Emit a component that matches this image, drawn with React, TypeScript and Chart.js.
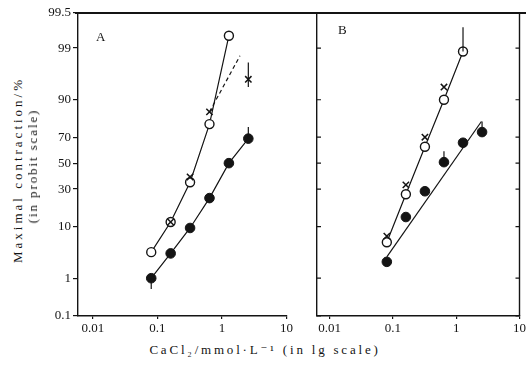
import React, { useEffect, useRef } from "react";
import { Chart, registerables } from "chart.js";
Chart.register(...registerables);

const INK = "#141414";
const FONT = "'Liberation Serif', 'DejaVu Serif', serif";

// Shared
const concentrations = [0.08, 0.16, 0.32, 0.64, 1.28, 2.56];
const xTickValues = [0.01, 0.1, 1, 10];
const xTickLabels = ["0.01", "0.1", "1", "10"];
const yTickValues = [0.1, 1, 10, 30, 50, 70, 90, 99];
const yTickLabels = ["0.1", "1", "10", "30", "50", "70", "90", "99"];
const yTopPct = 99.88;
const yTopLabel = "99.5";

// Panel A (% maximal contraction)
const aOpen = [3.6, 11.7, 35, 78.5, 99.5, null];
const aCross = [null, 11.7, 39, 85, null, 95.5];
const aFilled = [1, 3.4, 9.5, 24, 50, 69];
const aCrossFitX = [0.64, 1.9];
const aCrossFitY = [85, 98.5];
const aErrX = [0.08, 2.56, 2.56];
const aErrLo = [0.55, 93.8, 69];
const aErrHi = [1, 97.9, 76.7];

// Panel B
const bOpen = [5.5, 26.5, 63, 90, 98.8, null];
const bCross = [7, 33, 70, 93.8, null, null];
const bFilled = [2.3, 13.8, 28.5, 50.8, 66, 73.5];
const bFitX = [0.08, 2.5];
const bFitY = [2.9, 80];
const bErrX = [1.28, 0.64, 2.56];
const bErrLo = [98.8, 50.8, 73.5];
const bErrHi = [99.7, 59.6, 80];

function probit(pct: number): number {
  const p = pct / 100;
  const a = [-3.969683028665376e1, 2.209460984245205e2, -2.759285104469687e2, 1.38357751867269e2, -3.066479806614716e1, 2.506628277459239];
  const b = [-5.447609879822406e1, 1.615858368580409e2, -1.556989798598866e2, 6.680131188771972e1, -1.328068155288572e1];
  const c = [-7.784894002430293e-3, -3.223964580411365e-1, -2.400758277161838, -2.549732539343734, 4.374664141464968, 2.938163982698783];
  const d = [7.784695709041462e-3, 3.224671290700398e-1, 2.445134137142996, 3.754408661907416];
  const pl = 0.02425;
  let q: number, r: number;
  if (p < pl) {
    q = Math.sqrt(-2 * Math.log(p));
    return (((((c[0] * q + c[1]) * q + c[2]) * q + c[3]) * q + c[4]) * q + c[5]) / ((((d[0] * q + d[1]) * q + d[2]) * q + d[3]) * q + 1);
  }
  if (p <= 1 - pl) {
    q = p - 0.5;
    r = q * q;
    return ((((((a[0] * r + a[1]) * r + a[2]) * r + a[3]) * r + a[4]) * r + a[5]) * q) / (((((b[0] * r + b[1]) * r + b[2]) * r + b[3]) * r + b[4]) * r + 1);
  }
  q = Math.sqrt(-2 * Math.log(1 - p));
  return -(((((c[0] * q + c[1]) * q + c[2]) * q + c[3]) * q + c[4]) * q + c[5]) / ((((d[0] * q + d[1]) * q + d[2]) * q + d[3]) * q + 1);
}

function pts(xs: number[], ys: (number | null)[]) {
  const out: { x: number; y: number }[] = [];
  ys.forEach((v, i) => {
    if (v !== null && v !== undefined) out.push({ x: xs[i], y: probit(v) });
  });
  return out;
}

const openDs = (data: any[]) => ({
  data,
  showLine: true,
  borderColor: INK,
  borderWidth: 1.2,
  pointStyle: "circle",
  pointRadius: 4.5,
  pointBackgroundColor: "#fff",
  pointBorderColor: INK,
  pointBorderWidth: 1.4,
});
const crossDs = (data: any[]) => ({
  data,
  showLine: false,
  pointStyle: "crossRot",
  pointRadius: 4.5,
  pointBorderColor: INK,
  pointBorderWidth: 1.5,
});
const filledDs = (data: any[], line: boolean) => ({
  data,
  showLine: line,
  borderColor: INK,
  borderWidth: 1.2,
  pointStyle: "circle",
  pointRadius: 4.8,
  pointBackgroundColor: INK,
  pointBorderColor: INK,
  pointBorderWidth: 1,
});
const lineDs = (data: any[], dash: number[]) => ({
  data,
  showLine: true,
  borderColor: INK,
  borderWidth: 1.2,
  borderDash: dash,
  pointRadius: 0,
});

function makePlugin(errX: number[], errLo: number[], errHi: number[], frameRight: boolean) {
  return {
    id: "extras",
    afterDatasetsDraw(chart: any) {
      const ctx = chart.ctx;
      const xs = chart.scales.x;
      const ys = chart.scales.y;
      ctx.save();
      ctx.strokeStyle = INK;
      ctx.lineWidth = 1.2;
      errX.forEach((xv, i) => {
        const px = xs.getPixelForValue(xv);
        ctx.beginPath();
        ctx.moveTo(px, ys.getPixelForValue(probit(errLo[i])));
        ctx.lineTo(px, ys.getPixelForValue(probit(errHi[i])));
        ctx.stroke();
      });
      if (frameRight) {
        const { left, right, top, bottom } = chart.chartArea;
        ctx.lineWidth = 1.4;
        ctx.beginPath();
        ctx.moveTo(right, top);
        ctx.lineTo(right, bottom);
        ctx.stroke();
        ctx.lineWidth = 1.2;
        yTickValues.forEach((p) => {
          const py = ys.getPixelForValue(probit(p));
          ctx.beginPath();
          ctx.moveTo(left, py);
          ctx.lineTo(left + 4, py);
          ctx.moveTo(right, py);
          ctx.lineTo(right - 4, py);
          ctx.stroke();
        });
      }
      ctx.restore();
    },
  };
}

function makeConfig(panel: "A" | "B"): any {
  const isA = panel === "A";
  const allYLabels = [...yTickLabels, yTopLabel];
  const datasets = isA
    ? [
        crossDs(pts(concentrations, aCross)),
        lineDs(pts(aCrossFitX, aCrossFitY), [4, 3]),
        openDs(pts(concentrations, aOpen)),
        filledDs(pts(concentrations, aFilled), true),
      ]
    : [
        crossDs(pts(concentrations, bCross)),
        openDs(pts(concentrations, bOpen)),
        filledDs(pts(concentrations, bFilled), false),
        lineDs(pts(bFitX, bFitY), []),
      ];
  return {
    type: "scatter",
    data: { datasets },
    plugins: [
      isA ? makePlugin(aErrX, aErrLo, aErrHi, false) : makePlugin(bErrX, bErrLo, bErrHi, true),
    ],
    options: {
      responsive: false,
      animation: false,
      events: [],
      layout: { padding: { top: 13, right: isA ? 8 : 3, left: 0, bottom: 0 } },
      plugins: { legend: { display: false }, tooltip: { enabled: false } },
      scales: {
        x: {
          type: "logarithmic",
          min: isA ? 0.00586 : 0.0063,
          max: 10,
          afterFit: (s: any) => {
            s.height = 24;
          },
          afterBuildTicks: (s: any) => {
            s.ticks = xTickValues.map((v) => ({ value: v }));
          },
          ticks: {
            autoSkip: false,
            maxRotation: 0,
            color: INK,
            font: { family: FONT, size: 13 },
            padding: 2,
            callback: (_v: any, i: number) => xTickLabels[i],
          },
          grid: { drawOnChartArea: false, tickLength: 3, color: INK, lineWidth: 1.2 },
          border: { display: true, color: INK, width: 1.4 },
        },
        y: {
          type: "linear",
          min: probit(0.1),
          max: probit(yTopPct),
          afterFit: (s: any) => {
            s.width = isA ? 38 : 17;
          },
          afterBuildTicks: (s: any) => {
            s.ticks = [...yTickValues, yTopPct].map((p) => ({ value: probit(p) }));
          },
          ticks: {
            display: isA,
            autoSkip: false,
            color: INK,
            font: { family: FONT, size: 13 },
            padding: 2,
            callback: (_v: any, i: number) => allYLabels[i],
          },
          grid: { drawOnChartArea: false, drawTicks: isA, tickLength: 5, color: INK, lineWidth: 1.2 },
          border: { display: true, color: INK, width: 1.4 },
        },
      },
    },
  };
}

function Panel({ panel, left, width }: { panel: "A" | "B"; left: number; width: number }) {
  const ref = useRef<HTMLCanvasElement>(null);
  useEffect(() => {
    if (!ref.current) return;
    const chart = new Chart(ref.current, makeConfig(panel));
    return () => chart.destroy();
  }, [panel]);
  return (
    <canvas
      ref={ref}
      width={width}
      height={340}
      style={{ position: "absolute", left, top: 0, width, height: 340 }}
    />
  );
}

const textBase: React.CSSProperties = {
  position: "absolute",
  fontFamily: FONT,
  color: INK,
  whiteSpace: "nowrap",
  fontSize: 13,
};

export default function App() {
  return (
    <div
      style={{
        position: "fixed",
        left: 0,
        top: 0,
        width: 528,
        height: 368,
        background: "#fff",
        overflow: "hidden",
      }}
    >
      <Panel panel="A" left={40} width={255} />
      <Panel panel="B" left={300} width={228} />
      <div style={{ position: "absolute", left: 75, top: 12, width: 451, height: 1.5, background: INK }} />
      <div style={{ ...textBase, left: 96, top: 29, fontSize: 13 }}>A</div>
      <div style={{ ...textBase, left: 338, top: 22, fontSize: 13 }}>B</div>
      <div
        style={{
          ...textBase,
          left: 18,
          top: 170,
          letterSpacing: 3,
          transform: "translate(-50%, -50%) rotate(-90deg)",
        }}
      >
        Maximal contraction/%
      </div>
      <div
        style={{
          ...textBase,
          left: 33,
          top: 166,
          letterSpacing: 1.9,
          transform: "translate(-50%, -50%) rotate(-90deg)",
        }}
      >
        (in probit scale)
      </div>
      <div
        style={{
          ...textBase,
          left: 265,
          top: 350,
          letterSpacing: 2.8,
          transform: "translate(-50%, -50%)",
        }}
      >
        CaCl₂/mmol·L⁻¹ (in lg scale)
      </div>
    </div>
  );
}
